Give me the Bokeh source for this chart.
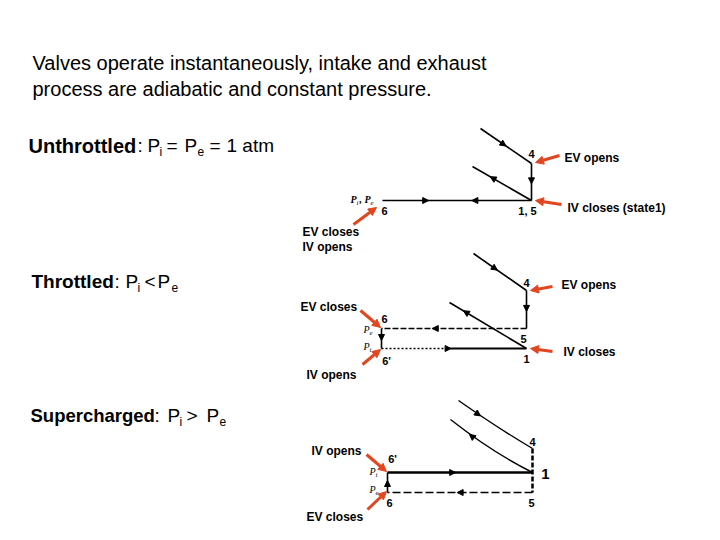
from bokeh.plotting import figure
from bokeh.models import Range1d, Arrow, NormalHead, ColumnDataSource
from bokeh.embed import file_html
from bokeh.resources import INLINE
from bokeh.core.properties import value

# ---------------- data (page pixel coordinates) ----------------
TITLE_LINES = ["Valves operate instantaneously, intake and exhaust",
               "process are adiabatic and constant pressure."]

# Unthrottled cycle: state points
UN_LABELS = ["4", "1, 5", "6"]
UN_X = [531, 531, 382]
UN_Y = [163, 200, 200]
UN_EXP_START = [480, 128]      # start of expansion line
UN_CMP_START = [472, 166]      # end of compression line (drawn from 1)

# Throttled cycle: state points 4, 5, 1, 6, 6'
TH_LABELS = ["4", "5", "1", "6", "6'"]
TH_X = [526, 526, 526, 381, 381]
TH_Y = [290, 328, 348, 328, 348]
TH_EXP_START = [473, 253]
TH_CMP_START = [449, 302]

# Supercharged cycle: state points 4, 1, 5, 6', 6
SC_LABELS = ["4", "1", "5", "6'", "6"]
SC_X = [532, 532, 532, 387, 387]
SC_Y = [448, 472, 492, 472, 492]
SC_EXP_START = [458, 400]
SC_EXP_CTRL = [498, 428]
SC_CMP_START = [450, 419]
SC_CMP_CTRL = [492, 452]

# valve-event annotations: text, text x, text y, arrow start x/y, arrow end x/y
ANN_TEXT = ["EV opens", "IV closes (state1)", "EV opens", "IV closes", "EV closes", "IV opens",
            "IV opens", "EV closes", "EV closes", "IV opens"]
ANN_TX = [564, 567, 561, 563, 300, 306, 311, 306, 302, 302]
ANN_TY = [157, 207, 284, 351, 306, 374, 450, 516, 231, 246]
ARR_X0 = [559, 561, 552, 552, 360, 362, 366, 367, 353]
ARR_Y0 = [155, 204, 286, 351, 310, 364, 454, 509, 224]
ARR_X1 = [535, 535, 530, 530, 380, 380, 386, 386, 376]
ARR_Y1 = [162, 200, 290, 348, 327, 349, 471, 491, 207]

RED = "#e1461f"
FONT = value("Liberation Sans")
SERIF = value("Liberation Serif")

p = figure(width=704, height=524, x_range=Range1d(0, 704), y_range=Range1d(524, 0),
           x_axis_type=None, y_axis_type=None, toolbar_location=None,
           output_backend="svg", min_border=0)
p.grid.visible = False
p.outline_line_color = None
p.background_fill_color = "white"


def txt(x, y, s, size="12px", style="normal", font=FONT, align="left", color="black"):
    p.text(x=[x], y=[y], text=[s], text_font=font, text_font_size=size,
           text_font_style=style, text_align=align, text_baseline="middle",
           text_color=color)


def seg(x0, y0, x1, y1, width=1.6, dash="solid"):
    p.segment(x0=[x0], y0=[y0], x1=[x1], y1=[y1], line_color="black",
              line_width=width, line_dash=dash)


heads = dict(x0=[], y0=[], x1=[], y1=[])


def head(x0, y0, x1, y1, t):
    # small arrowhead located at fraction t of the segment, pointing towards (x1, y1)
    dx, dy = x1 - x0, y1 - y0
    heads["x0"].append(x0 + dx * (t - 0.04))
    heads["y0"].append(y0 + dy * (t - 0.04))
    heads["x1"].append(x0 + dx * t)
    heads["y1"].append(y0 + dy * t)


# ---------------- headings ----------------
txt(32, 62, TITLE_LINES[0], size="20px")
txt(32, 88, TITLE_LINES[1], size="20px")

S = "12px"
# Unthrottled: Pi = Pe = 1 atm
yb = 145
txt(28, yb, "Unthrottled", size="20px", style="bold")
txt(137, yb, ":", size="19px")
txt(147, yb, "P", size="19px")
txt(159, yb + 6, "i", size=S)
txt(166, yb, "=", size="19px")
txt(184, yb, "P", size="19px")
txt(197, yb + 6, "e", size=S)
txt(209, yb, "=", size="19px")
txt(226, yb, "1 atm", size="19px")

# Throttled: Pi < Pe
yb = 281
txt(31, yb, "Throttled", size="19px", style="bold")
txt(114, yb, ":", size="19px")
txt(125, yb, "P", size="19px")
txt(137, yb + 6, "i", size=S)
txt(144, yb, "<", size="19px")
txt(157, yb, "P", size="19px")
txt(171, yb + 6, "e", size=S)

# Supercharged: Pi > Pe
yb = 415
txt(30, yb, "Supercharged", size="18.5px", style="bold")
txt(154, yb, ":", size="19px")
txt(167, yb, "P", size="19px")
txt(179, yb + 6, "i", size=S)
txt(186, yb, ">", size="19px")
txt(206, yb, "P", size="19px")
txt(219, yb + 6, "e", size=S)

# ---------------- Unthrottled diagram ----------------
x4, x15, x6 = UN_X
y4, y15, y6 = UN_Y
seg(UN_EXP_START[0], UN_EXP_START[1], x4, y4)
head(UN_EXP_START[0], UN_EXP_START[1], x4, y4, 0.5)
seg(x4, y4, x15, y15)
head(x4, y4, x15, y15, 0.55)
seg(x6, y6, x15, y15)
head(x6, y6, x15, y15, 0.31)
head(x15, y15, x6, y6, 0.4)
seg(x15, y15, UN_CMP_START[0], UN_CMP_START[1])
head(x15, y15, UN_CMP_START[0], UN_CMP_START[1], 0.7)
txt(x4, y4 - 10, UN_LABELS[0], size="11px", style="bold", align="center")
txt(x15 - 4, y15 + 10, UN_LABELS[1], size="11px", style="bold", align="center")
txt(x6 + 2, y6 + 10, UN_LABELS[2], size="11px", style="bold", align="center")
txt(350, 199, "P", size="10px", style="bold italic", font=SERIF)
txt(356, 202, "i", size="7px", style="italic", font=SERIF)
txt(359, 199, ",", size="10px", style="bold italic", font=SERIF)
txt(364, 199, "P", size="10px", style="bold italic", font=SERIF)
txt(370, 202, "e", size="7px", style="italic", font=SERIF)

# ---------------- Throttled diagram ----------------
x4, x5, x1, x6, x6p = TH_X
y4, y5, y1, y6, y6p = TH_Y
seg(TH_EXP_START[0], TH_EXP_START[1], x4, y4)
head(TH_EXP_START[0], TH_EXP_START[1], x4, y4, 0.45)
seg(x4, y4, x5, y5)
head(x4, y4, x5, y5, 0.55)
seg(x5, y5, x6, y6, dash="6 2")
head(x5, y5, x6, y6, 0.65)
seg(x6, y6, x6p, y6p)
head(x6, y6, x6p, y6p, 0.6)
seg(x6p, y6p, 450, y1, dash="2 2")
seg(450, y1, x1, y1, width=2)
head(x6p, y6p, x1, y1, 0.48)
seg(x1, y1, TH_CMP_START[0], TH_CMP_START[1])
head(x1, y1, TH_CMP_START[0], TH_CMP_START[1], 0.82)
txt(x4, y4 - 8, TH_LABELS[0], size="11px", style="bold", align="center")
txt(x5 - 3, y5 + 10, TH_LABELS[1], size="11px", style="bold", align="center")
txt(x1, y1 + 10, TH_LABELS[2], size="11px", style="bold", align="center")
txt(x6 + 3, y6 - 10, TH_LABELS[3], size="11px", style="bold", align="center")
txt(x6p + 5, y6p + 12, TH_LABELS[4], size="11px", style="bold", align="center")
txt(363, 329, "P", size="10px", style="italic", font=SERIF)
txt(369, 332, "e", size="7px", style="italic", font=SERIF)
txt(363, 346, "P", size="10px", style="italic", font=SERIF)
txt(369, 349, "i", size="7px", style="italic", font=SERIF)

# ---------------- Supercharged diagram ----------------
x4, x1, x5, x6p, x6 = SC_X
y4, y1, y5, y6p, y6 = SC_Y
p.quadratic(x0=[SC_EXP_START[0]], y0=[SC_EXP_START[1]], x1=[x4], y1=[y4],
            cx=[SC_EXP_CTRL[0]], cy=[SC_EXP_CTRL[1]], line_color="black", line_width=1.4)
head(SC_EXP_START[0], SC_EXP_START[1], SC_EXP_CTRL[0], SC_EXP_CTRL[1], 0.55)
p.quadratic(x0=[x1], y0=[y1], x1=[SC_CMP_START[0]], y1=[SC_CMP_START[1]],
            cx=[SC_CMP_CTRL[0]], cy=[SC_CMP_CTRL[1]], line_color="black", line_width=1.4)
head(SC_CMP_CTRL[0], SC_CMP_CTRL[1], SC_CMP_START[0], SC_CMP_START[1], 0.55)
seg(x4, y4, x5, y5, width=2.5, dash="5 2")
seg(x6p, y6p, x1, y1, width=2.4)
head(x6p, y6p, x1, y1, 0.47)
seg(x5, y5, x6, y6, width=1.6, dash="8 3")
head(x5, y5, x6, y6, 0.52)
seg(x6, y6, x6p, y6p)
head(x6, y6, x6p, y6p, 0.6)
txt(x4, y4 - 7, SC_LABELS[0], size="11px", style="bold", align="center")
txt(x1 + 13, y1 + 1, SC_LABELS[1], size="15px", style="bold", align="center")
txt(x5 - 1, y5 + 10, SC_LABELS[2], size="11px", style="bold", align="center")
txt(x6p + 5, y6p - 14, SC_LABELS[3], size="11px", style="bold", align="center")
txt(x6 + 2, y6 + 10, SC_LABELS[4], size="11px", style="bold", align="center")
txt(369, 471, "P", size="10px", style="italic", font=SERIF)
txt(375, 474, "i", size="7px", style="italic", font=SERIF)
txt(369, 489, "P", size="10px", style="italic", font=SERIF)
txt(375, 492, "e", size="7px", style="italic", font=SERIF)

# black arrowheads on process lines
p.add_layout(Arrow(end=NormalHead(size=6, fill_color="black", line_color="black"),
                   source=ColumnDataSource(heads), x_start="x0", y_start="y0",
                   x_end="x1", y_end="y1", line_alpha=0))

# ---------------- valve event annotations ----------------
for s, x, y in zip(ANN_TEXT, ANN_TX, ANN_TY):
    txt(x, y, s, size="12px", style="bold")

p.add_layout(Arrow(end=NormalHead(size=8, fill_color=RED, line_color=RED),
                   source=ColumnDataSource(dict(x0=ARR_X0, y0=ARR_Y0, x1=ARR_X1, y1=ARR_Y1)),
                   x_start="x0", y_start="y0", x_end="x1", y_end="y1",
                   line_color=RED, line_width=3))

open("out.html", "w").write(file_html(p, INLINE))
